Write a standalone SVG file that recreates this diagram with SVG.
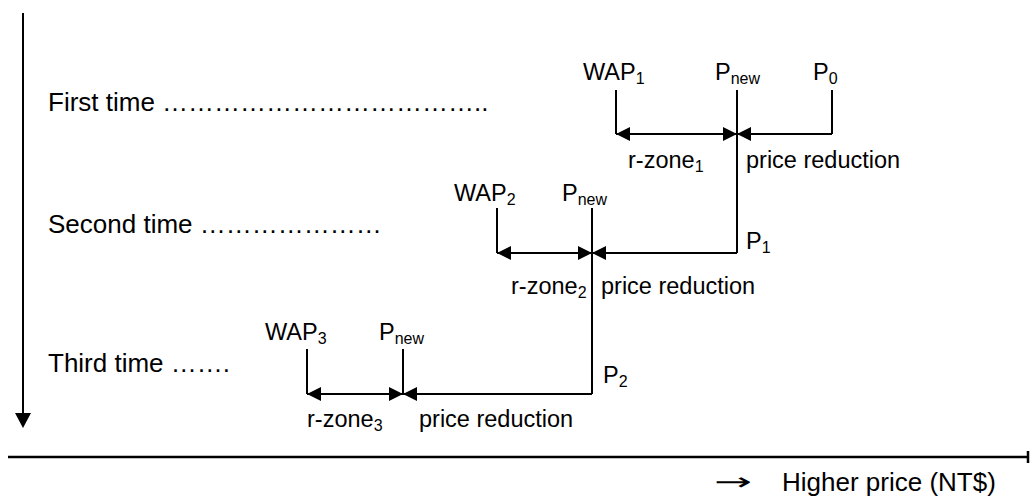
<svg xmlns="http://www.w3.org/2000/svg" width="1030" height="496" viewBox="0 0 1030 496">
<defs>
<marker id="ah" markerUnits="userSpaceOnUse" markerWidth="14" markerHeight="14" viewBox="0 0 14 14" refX="14" refY="7" orient="auto-start-reverse">
<path d="M0,0 L14,7 L0,14 Z" fill="#000"/>
</marker>
<style>
.t{font-family:"Liberation Sans",Arial,sans-serif;fill:#000}
.big{font-size:26px}
.lab{font-size:23.5px}
.sub{font-size:16px}
.ln{stroke:#000;stroke-width:2;fill:none}
.ar{stroke:#000;stroke-width:2;fill:none;marker-end:url(#ah)}
.ar2{stroke:#000;stroke-width:2;fill:none;marker-start:url(#ah);marker-end:url(#ah)}
</style>
</defs>
<rect width="1030" height="496" fill="#fff"/>

<g id="axes">
<line class="ln" x1="23" y1="13" x2="23" y2="415"/>
<path d="M15,413 L31,413 L23,428 Z" fill="#000"/>
<line x1="8" y1="457" x2="1028" y2="457" stroke="#000" stroke-width="2.5"/>
<line x1="1028" y1="451" x2="1028" y2="463" stroke="#000" stroke-width="2.5"/>
<text x="714" y="490" font-family="'DejaVu Sans',sans-serif" font-size="24" textLength="38" lengthAdjust="spacingAndGlyphs">→</text>
<text class="t big" x="782" y="491">Higher price (NT$)</text>
</g>

<g id="row-labels">
<text class="t big" x="48" y="111">First time &#8230;&#8230;&#8230;&#8230;&#8230;&#8230;&#8230;&#8230;&#8230;&#8230;&#8230;&#8230;..</text>
<text class="t big" x="48" y="233">Second time &#8230;&#8230;&#8230;&#8230;&#8230;&#8230;&#8230;</text>
<text class="t big" x="48" y="372">Third time &#8230;&#8230;.</text>
</g>

<g id="row1">
<text class="t lab" x="583" y="80">WAP<tspan class="sub" dy="4">1</tspan></text>
<text class="t lab" x="715" y="80">P<tspan class="sub" dy="4">new</tspan></text>
<text class="t lab" x="813" y="80">P<tspan class="sub" dy="4">0</tspan></text>
<text class="t lab" x="628" y="168">r-zone<tspan class="sub" dy="4">1</tspan></text>
<text class="t lab" x="746" y="168">price reduction</text>
</g>

<g id="row2">
<text class="t lab" x="454" y="201">WAP<tspan class="sub" dy="4">2</tspan></text>
<text class="t lab" x="562" y="201">P<tspan class="sub" dy="4">new</tspan></text>
<text class="t lab" x="746" y="249">P<tspan class="sub" dy="4">1</tspan></text>
<text class="t lab" x="511" y="294">r-zone<tspan class="sub" dy="4">2</tspan></text>
<text class="t lab" x="601" y="294">price reduction</text>
</g>

<g id="row3">
<text class="t lab" x="265" y="340">WAP<tspan class="sub" dy="4">3</tspan></text>
<text class="t lab" x="379" y="340">P<tspan class="sub" dy="4">new</tspan></text>
<text class="t lab" x="603" y="383">P<tspan class="sub" dy="4">2</tspan></text>
<text class="t lab" x="307" y="427">r-zone<tspan class="sub" dy="4">3</tspan></text>
<text class="t lab" x="419" y="427">price reduction</text>
</g>

<g id="connectors">
<line class="ln" x1="616" y1="90" x2="616" y2="134"/>
<line class="ln" x1="832" y1="90" x2="832" y2="134"/>
<line class="ln" x1="737" y1="90" x2="737" y2="253"/>
<line class="ar2" x1="616" y1="134" x2="737" y2="134"/>
<line class="ar" x1="832" y1="134" x2="737" y2="134"/>

<line class="ln" x1="497" y1="208" x2="497" y2="253"/>
<line class="ln" x1="592" y1="208" x2="592" y2="394"/>
<line class="ar2" x1="497" y1="253" x2="592" y2="253"/>
<line class="ar" x1="737" y1="253" x2="592" y2="253"/>

<line class="ln" x1="307" y1="349" x2="307" y2="394"/>
<line class="ln" x1="403" y1="349" x2="403" y2="394"/>
<line class="ar2" x1="307" y1="394" x2="403" y2="394"/>
<line class="ar" x1="592" y1="394" x2="403" y2="394"/>
</g>
</svg>
